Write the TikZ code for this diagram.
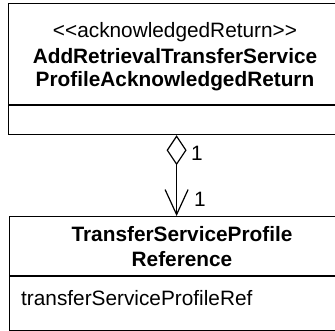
\documentclass[tikz,border=0pt]{standalone}
\usepackage{fontspec}
\setmainfont{Liberation Sans}
\usetikzlibrary{arrows.meta}
\tikzset{
  umlbox/.style={draw, line width=1.2pt, rectangle, inner sep=0pt, anchor=north west},
  txt/.style={font=\fontsize{20.8pt}{25pt}\selectfont, inner sep=0pt},
  bold/.style={txt, font=\fontsize{20.8pt}{25pt}\selectfont\bfseries},
  conn/.style={line width=1.2pt, {Diamond[open,length=30pt,width=20pt]}-{Straight Barb[length=25pt,width=23pt]}}
}
\begin{document}
\begin{tikzpicture}[x=1pt,y=-1pt]
\useasboundingbox (0,0) rectangle (335,331);
\clip (0,0) rectangle (335,331);
\node[umlbox, minimum width=336pt, minimum height=131pt] (top) at (8,3) {};
\node[umlbox, minimum width=334pt, minimum height=114pt] (bot) at (9,216) {};
\draw[line width=1.2pt] (8,105) -- (344,105);
\draw[line width=1.2pt] (9,276) -- (343,276);
\node[txt] (st) at (175,32) {<\kern0pt<acknowledgedReturn>\kern0pt>};
\node[bold] (n1) at (175,56) {AddRetrievalTransferService};
\node[bold] (n2) at (175,81) {ProfileAcknowledgedReturn};
\node[bold] (b1) at (182,234) {TransferServiceProfile};
\node[bold] (b2) at (182,259) {Reference};
\node[txt, anchor=west] (attr) at (21,298) {transferServiceProfileRef};
\draw[conn] (top.south) -- (bot.north);
\node[txt] (m1) at (197,153) {1};
\node[txt] (m2) at (200,199) {1};
\end{tikzpicture}
\end{document}
